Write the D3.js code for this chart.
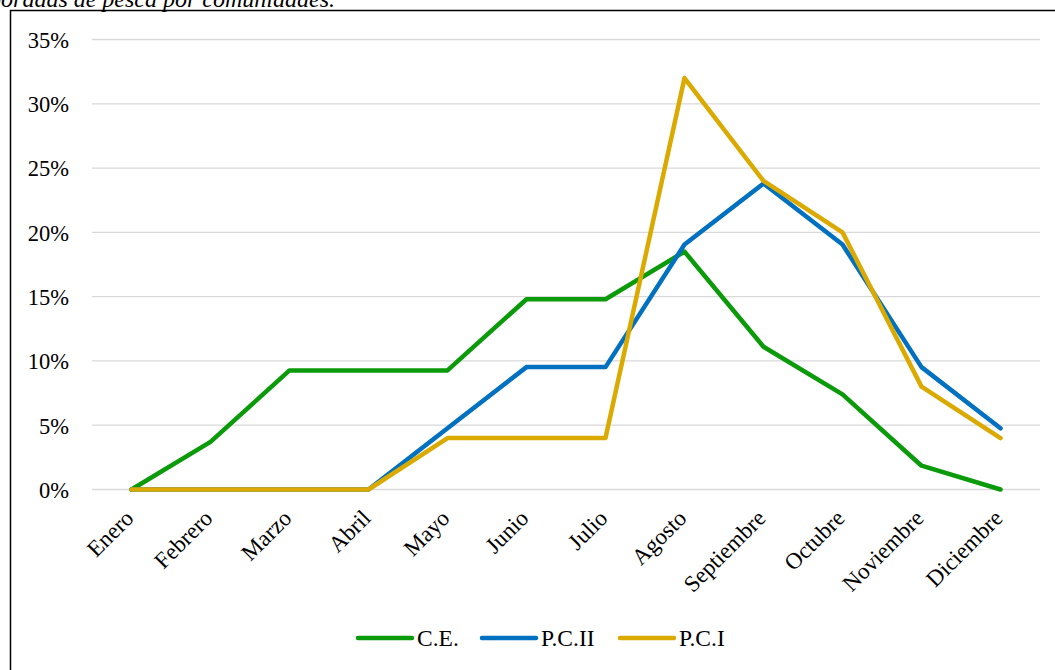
<!DOCTYPE html>
<html><head><meta charset="utf-8">
<script src="https://cdn.jsdelivr.net/npm/d3@7"></script>
<style>body{margin:0;background:#fff;} svg{display:block;}</style>
</head><body>
<svg id="c" width="1055" height="670"></svg>
<script>
const months = ["Enero","Febrero","Marzo","Abril","Mayo","Junio","Julio","Agosto","Septiembre","Octubre","Noviembre","Diciembre"];
const seriesNames = ["C.E.","P.C.II","P.C.I"];
const colors = ["#0A9A0A","#0070C0","#DAAA00"];
const ce   = [0,0.037,0.0926,0.0926,0.0926,0.148,0.148,0.185,0.111,0.074,0.0185,0];
const pc2  = [0,0,0,0,0.0476,0.0952,0.0952,0.1905,0.238,0.1905,0.0952,0.0476];
const pc1  = [0,0,0,0,0.04,0.04,0.04,0.32,0.24,0.20,0.08,0.04];
const yTicks = [0,0.05,0.10,0.15,0.20,0.25,0.30,0.35];
const series = [ce,pc2,pc1];

const svg = d3.select("#c");
const font = "'Liberation Serif','Times New Roman',serif";

svg.append("text").attr("x",335).attr("y",7).attr("text-anchor","end")
  .attr("font-family",font).attr("font-style","italic").attr("font-size",24)
  .text("Figura 5. Salidas elaboradas de pesca por comunidades.");

svg.append("rect").attr("x",10.5).attr("y",10.5).attr("width",1200).attr("height",800)
  .attr("fill","none").attr("stroke","#000").attr("stroke-width",1.5);

const x = d3.scalePoint().domain(months).range([92,1040]).padding(0.5);
const y = d3.scaleLinear().domain([0,0.35]).range([489.5,39.5]);

const grid = svg.append("g");
yTicks.forEach(t=>{
  grid.append("line").attr("x1",92).attr("x2",1040).attr("y1",y(t)).attr("y2",y(t))
    .attr("stroke","#d9d9d9").attr("stroke-width",1.3);
});

const yAxis = d3.axisLeft(y).tickValues(yTicks).tickFormat(d3.format(".0%")).tickSize(0).tickPadding(0);
const ya = svg.append("g").attr("transform","translate(69,0)").call(yAxis);
ya.select(".domain").remove();
ya.selectAll("text").attr("font-family",font).attr("font-size",22.5).attr("fill","#000").attr("dy","0.35em");

const xAxis = d3.axisBottom(x).tickSize(0).tickPadding(0);
const xa = svg.append("g").attr("transform","translate(0,489.5)").call(xAxis);
xa.select(".domain").remove();
xa.selectAll("text").attr("font-family",font).attr("font-size",23).attr("fill","#000")
  .attr("text-anchor","end").attr("dy",null).attr("y",0)
  .attr("transform","translate(3,30) rotate(-45)");

const line = d3.line().x((d,i)=>x(months[i])).y(d=>y(d));
series.forEach((s,k)=>{
  svg.append("path").datum(s).attr("d",line).attr("fill","none")
    .attr("stroke",colors[k]).attr("stroke-width",4.5)
    .attr("stroke-linejoin","round").attr("stroke-linecap","round");
});

const legX = [358,482,620];
seriesNames.forEach((n,k)=>{
  const g = svg.append("g").attr("transform",`translate(${legX[k]},638)`);
  g.append("line").attr("x1",0).attr("x2",54).attr("y1",0).attr("y2",0)
    .attr("stroke",colors[k]).attr("stroke-width",4.5).attr("stroke-linecap","round");
  g.append("text").attr("x",59).attr("y",0).attr("dy","0.35em")
    .attr("font-family",font).attr("font-size",23.5).attr("fill","#000").text(n);
});
</script>
</body></html>
